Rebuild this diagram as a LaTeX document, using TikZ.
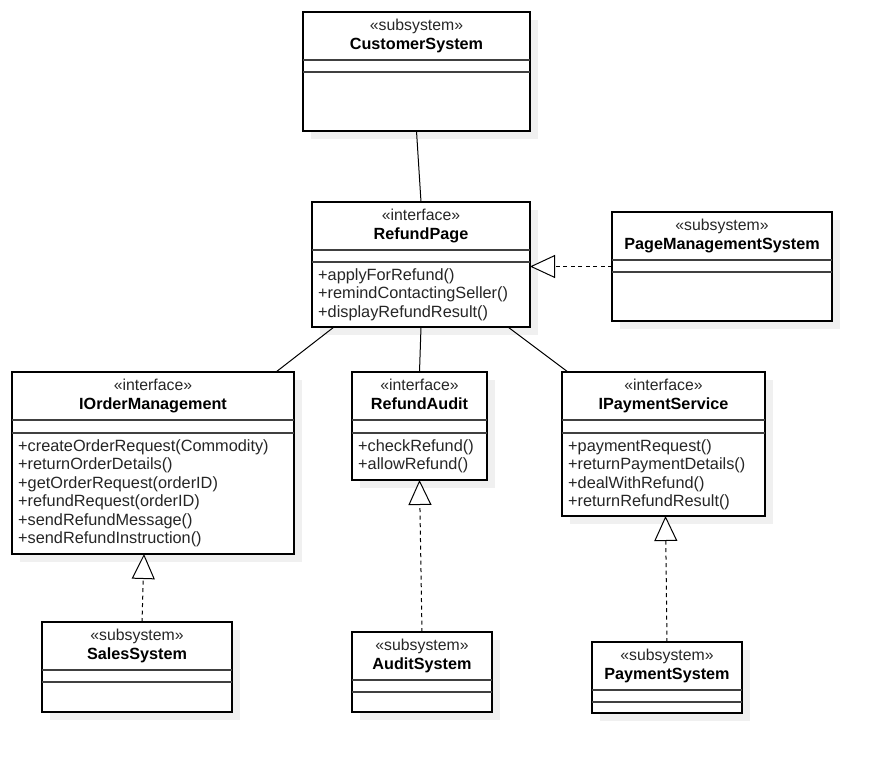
\documentclass[tikz,border=0pt]{standalone}
\usepackage{fontspec}
\setmainfont{Liberation Sans}
\usetikzlibrary{arrows.meta,fit}
\tikzset{
  x=1pt, y=-1pt,
  umlbox/.style={draw=black, line width=1.1pt, inner sep=0pt, outer sep=0pt, fill=white},
  shd/.style={fill=black!6},
  sepline/.style={draw=black!75, line width=1.3pt},
  stereo/.style={anchor=base, inner sep=0pt, font=\fontsize{15.8}{18}\selectfont, text=black!85},
  ttl/.style={anchor=base, inner sep=0pt, font=\fontsize{16.2}{18}\selectfont\bfseries},
  meth/.style={anchor=base west, inner sep=0pt, font=\fontsize{16.3}{18}\selectfont, text=black!85},
  assoc/.style={draw=black, line width=1pt},
  realize/.style={draw=black, line width=1pt, dash pattern=on 4pt off 3.5pt,
    -{Triangle[open, length=25pt, width=23pt, fill=white, line width=1pt]}},
}
\newcommand{\umlcls}[9]{%
  \fill[shd] ({#2+8},{#3+8}) rectangle ({#4+8},{#5+8});
  \node[umlbox, fit={(#2,#3) (#4,#5)}] (#1) {};
  \draw[sepline] (#2,#6) -- (#4,#6) (#2,#7) -- (#4,#7);
  \node[stereo] (#1-st) at ({(#2+#4)/2},{#3+18}) {«#8»};
  \node[ttl] (#1-tt) at ({(#2+#4)/2},{#3+37}) {#9};
}
\newcommand{\umlops}[4]{%
  \foreach \m [count=\i] in {#4} {\node[meth] (#1-\i) at ({#2},{#3+(\i-1)*18.5}) {\m};}
}
\begin{document}
\begin{tikzpicture}
\fill[white] (0,0) rectangle (881,763);
\useasboundingbox (0,0) rectangle (881,763);

\umlcls{cs}{303}{12}{530}{131}{60}{72}{subsystem}{CustomerSystem}
\umlcls{rp}{312}{202}{530}{327}{250}{262}{interface}{RefundPage}
\umlops{rp}{318}{280}{+applyForRefund(),+remindContactingSeller(),+displayRefundResult()}
\umlcls{pms}{612}{212}{832}{321}{260}{272}{subsystem}{PageManagementSystem}
\umlcls{iom}{12}{372}{294}{554}{420}{433}{interface}{IOrderManagement}
\umlops{iom}{18}{451}{+createOrderRequest(Commodity),+returnOrderDetails(),+getOrderRequest(orderID),+refundRequest(orderID),+sendRefundMessage(),+sendRefundInstruction()}
\umlcls{ra}{352}{372}{487}{480}{420}{433}{interface}{RefundAudit}
\umlops{ra}{358}{451}{+checkRefund(),+allowRefund()}
\umlcls{ips}{562}{372}{765}{516}{420}{433}{interface}{IPaymentService}
\umlops{ips}{568}{451}{+paymentRequest(),+returnPaymentDetails(),+dealWithRefund(),+returnRefundResult()}
\umlcls{ss}{42}{622}{232}{712}{670}{682}{subsystem}{SalesSystem}
\umlcls{as}{352}{632}{492}{712}{680}{692}{subsystem}{AuditSystem}
\umlcls{ps}{592}{642}{742}{713}{690}{702}{subsystem}{PaymentSystem}

% associations
\draw[assoc] (cs.south) -- (rp.north);
\draw[assoc] ([xshift=22pt]rp.south west) -- ([xshift=-18pt]iom.north east);
\draw[assoc] (rp.south) -- (ra.north);
\draw[assoc] ([xshift=-22pt]rp.south east) -- ([xshift=6pt]ips.north west);

% realizations
\draw[realize] (pms.west) -- (pms.west -| rp.east);
\draw[realize] ([xshift=5pt]ss.north) -- ([xshift=-9pt]iom.south);
\draw[realize] (as.north) -- (ra.south);
\draw[realize] (ps.north) -- ([xshift=2pt]ips.south);
\end{tikzpicture}
\end{document}
